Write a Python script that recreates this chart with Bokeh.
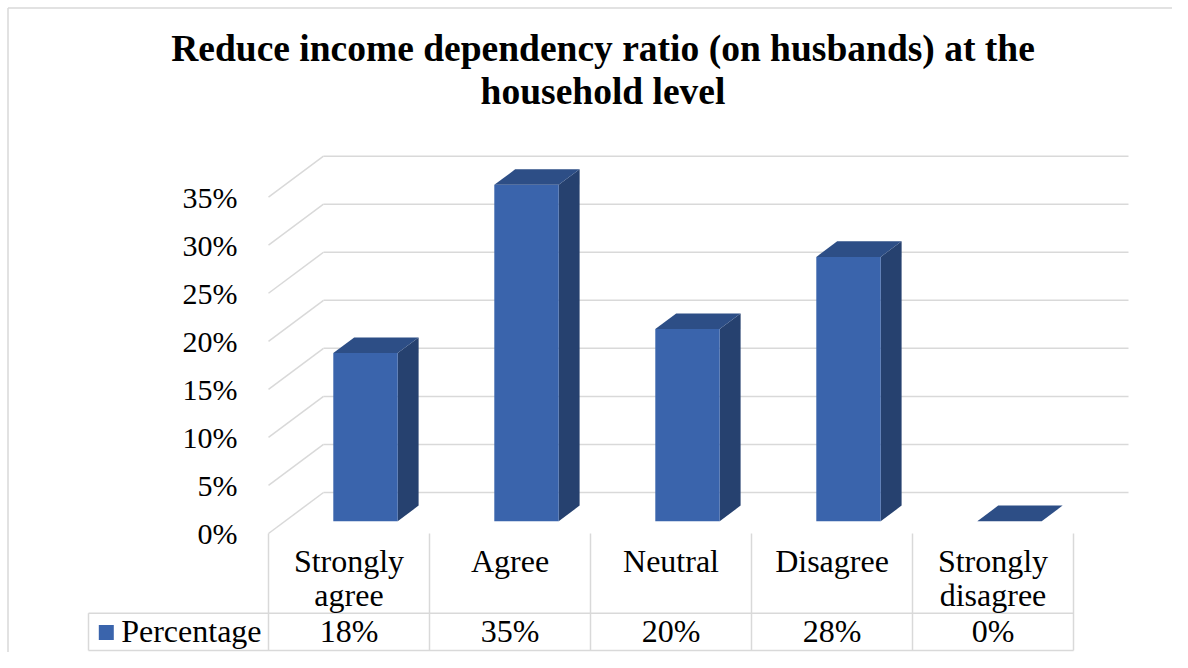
from bokeh.plotting import figure
from bokeh.models import Range1d, FixedTicker, PrintfTickFormatter
from bokeh.core.properties import value
from bokeh.embed import file_html
from bokeh.resources import INLINE

# ---------------- data ----------------
title_lines = ["Reduce income dependency ratio (on husbands) at the", "household level"]
categories = ["Strongly\nagree", "Agree", "Neutral", "Disagree", "Strongly\ndisagree"]
series_name = "Percentage"
values = [17.5, 35, 20, 27.5, 0]
y_ticks = [0, 5, 10, 15, 20, 25, 30, 35]

# ---------------- geometry / style ----------------
W, H = 1172, 652
XU = 161.0        # px per category
YU = 9.61         # px per percent
X0_PX, Y0_PX = 268.0, 533.0   # pixel position of (0, 0%) on front plane
WDX, WDY = 55.0, 41.0         # depth offset of back wall (px)
BAR_FRONT, BAR_BACK = 0.30, 0.68
BAR_W = 0.40
FONT = value("Liberation Serif")
GRID = "#D9D9D9"
C_FRONT, C_SIDE, C_TOP = "#3A64AC", "#26416F", "#2D4E86"


def dxu(px):
    return px / XU


def dyu(px):
    return px / YU


p = figure(width=W, height=H, output_backend="svg", toolbar_location=None,
           x_range=Range1d(-X0_PX / XU, (W - X0_PX) / XU),
           y_range=Range1d((Y0_PX - H) / YU, Y0_PX / YU),
           x_axis_location=None, y_axis_location="left", min_border=0)
p.outline_line_color = None
p.grid.visible = False
p.background_fill_color = "white"
p.border_fill_color = "white"

# y axis placed at the front-left edge of the floor
ya = p.yaxis[0]
ya.fixed_location = 0
ya.ticker = FixedTicker(ticks=y_ticks)
ya.formatter = PrintfTickFormatter(format="%d%%")
ya.major_tick_in = 0
ya.major_tick_out = 0
ya.minor_tick_in = 0
ya.minor_tick_out = 0
ya.axis_line_color = None
ya.major_label_standoff = 31
ya.major_label_text_font = "Times New Roman"
ya.major_label_text_font_size = "30px"
ya.major_label_text_font_style = "normal"
ya.major_label_text_color = "#000000"

# outer chart border (left and top)
bxl = -dxu(X0_PX - 7.5)
byt = dyu(Y0_PX - 7.5)
p.segment(x0=[bxl], y0=[p.y_range.start], x1=[bxl], y1=[byt], line_color=GRID, line_width=1.5)
p.segment(x0=[bxl], y0=[byt], x1=[p.x_range.end], y1=[byt], line_color=GRID, line_width=1.5)

# 3D gridlines: diagonal on the side wall + horizontal on back wall
n = len(categories)
bx, by = dxu(WDX), dyu(WDY)
p.segment(x0=[0] * len(y_ticks), y0=y_ticks, x1=[bx] * len(y_ticks), y1=[t + by for t in y_ticks],
          line_color=GRID, line_width=1.5)
p.segment(x0=[bx] * len(y_ticks), y0=[t + by for t in y_ticks], x1=[n + bx] * len(y_ticks),
          y1=[t + by for t in y_ticks], line_color=GRID, line_width=1.5)

# bars
fx, fy = dxu(BAR_FRONT * WDX), dyu(BAR_FRONT * WDY)
ddx, ddy = dxu((BAR_BACK - BAR_FRONT) * WDX), dyu((BAR_BACK - BAR_FRONT) * WDY)
lefts, rights, bottoms, tops = [], [], [], []
side_x, side_y, top_x, top_y = [], [], [], []
for i, v in enumerate(values):
    cx = i + 0.5 + fx
    l, r = cx - BAR_W / 2, cx + BAR_W / 2
    b = fy
    t = b + v
    lefts.append(l); rights.append(r); bottoms.append(b); tops.append(t)
    side_x.append([r, r + ddx, r + ddx, r]); side_y.append([b, b + ddy, t + ddy, t])
    top_x.append([l, r, r + ddx, l + ddx]); top_y.append([t, t, t + ddy, t + ddy])

p.patches(xs=side_x, ys=side_y, fill_color=C_SIDE, line_color=None)
p.quad(left=lefts, right=rights, bottom=bottoms, top=tops, fill_color=C_FRONT, line_color=None)
p.patches(xs=top_x, ys=top_y, fill_color=C_TOP, line_color=None)

# data table
row_y = -dyu(79.7)
bot_y = -dyu(117.0)
left_x = -dxu(180.0)
p.segment(x0=[left_x, left_x], y0=[row_y, bot_y], x1=[n, n], y1=[row_y, bot_y], line_color=GRID, line_width=1.5)
p.segment(x0=[left_x], y0=[row_y], x1=[left_x], y1=[bot_y], line_color=GRID, line_width=1.5)
p.segment(x0=list(range(n + 1)), y0=[0] * (n + 1), x1=list(range(n + 1)), y1=[bot_y] * (n + 1),
          line_color=GRID, line_width=1.5)

line1 = [c.split("\n")[0] for c in categories]
line2 = [c.split("\n")[1] if "\n" in c else "" for c in categories]
cxs = [i + 0.5 for i in range(n)]
common = dict(text_font=FONT, text_font_size="32px", text_baseline="middle", text_color="#000000")
p.text(x=cxs, y=[-dyu(27.0)] * n, text=line1, text_align="center", **common)
p.text(x=cxs, y=[-dyu(61.8)] * n, text=line2, text_align="center", **common)
val_labels = ["{:.0f}%".format(v) for v in values]
p.text(x=cxs, y=[-dyu(97.3)] * n, text=val_labels, text_align="center", **common)
p.text(x=[-dxu(147.3)], y=[-dyu(97.3)], text=[series_name], text_align="left", **common)
p.scatter(x=[-dxu(162.2)], y=[-dyu(99.0)], marker="square", size=15, fill_color=C_FRONT, line_color=None)

# title
tx = dxu(334.5)
p.text(x=[tx, tx], y=[dyu(485.5), dyu(442.2)], text=title_lines, text_font=FONT, text_font_size="37.5px",
       text_font_style="bold", text_align="center", text_baseline="middle", text_color="#000000")

open("out.html", "w").write(file_html(p, INLINE))
